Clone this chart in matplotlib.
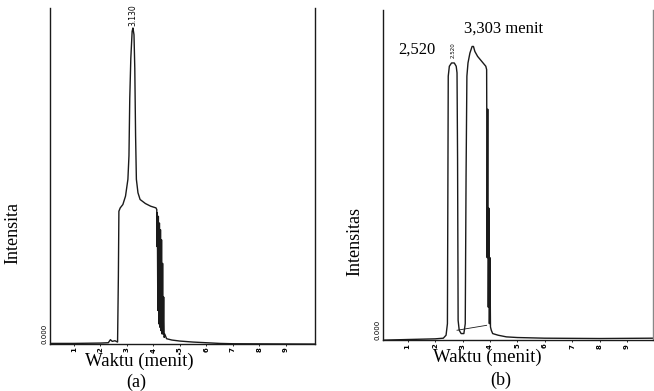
import matplotlib.pyplot as plt

plt.rcParams['font.family'] = ['Liberation Serif', 'DejaVu Serif']

# --- panel (a): single broad peak, label 3.130 ---
t_a = [0.1, 1.0, 2.0, 2.3, 2.38, 2.45, 2.55, 2.65, 2.68, 2.70, 2.75, 2.85, 2.95,
       3.04, 3.08, 3.11, 3.15, 3.20, 3.23, 3.27, 3.30, 3.33, 3.36, 3.42, 3.50,
       3.70, 3.90, 4.10, 4.13, 4.14, 4.15, 4.17, 4.19, 4.21, 4.23, 4.25, 4.27,
       4.29, 4.31, 4.33, 4.35, 4.37, 4.39, 4.41, 4.43, 4.50, 4.70, 5.00, 5.50,
       6.00, 6.50, 7.00, 10.1]
i_a = [0.002, 0.002, 0.003, 0.004, 0.013, 0.008, 0.010, 0.006, 0.20, 0.395, 0.405, 0.415, 0.44,
       0.49, 0.56, 0.73, 0.85, 0.93, 0.94, 0.92, 0.82, 0.62, 0.49, 0.45, 0.43,
       0.418, 0.41, 0.405, 0.40, 0.29, 0.39, 0.10, 0.38, 0.06, 0.36, 0.05, 0.34,
       0.04, 0.31, 0.03, 0.24, 0.03, 0.14, 0.02, 0.03, 0.016, 0.012, 0.009, 0.006,
       0.004, 0.002, 0.001, 0.0]

# --- panel (b): two peaks, 2.520 and 3.303 ---
t_b = [0.1, 1.0, 2.0, 2.30, 2.40, 2.45, 2.48, 2.52, 2.60, 2.70, 2.77, 2.80,
       2.82, 2.84, 2.88, 2.95, 3.05, 3.10, 3.13, 3.16, 3.20, 3.27, 3.35, 3.40,
       3.45, 3.55, 3.65, 3.75, 3.85, 3.88, 3.90, 3.92, 3.94, 3.96, 3.98, 4.00,
       4.02, 4.05, 4.10, 4.30, 4.60, 5.00, 6.00, 8.00, 9.95]
i_b = [0.0, 0.002, 0.004, 0.006, 0.015, 0.05, 0.80, 0.83, 0.84, 0.84, 0.83, 0.81,
       0.55, 0.06, 0.03, 0.02, 0.02, 0.05, 0.50, 0.80, 0.84, 0.87, 0.89, 0.89,
       0.875, 0.86, 0.85, 0.84, 0.83, 0.82, 0.25, 0.70, 0.10, 0.40, 0.05, 0.25,
       0.04, 0.03, 0.02, 0.015, 0.010, 0.008, 0.006, 0.005, 0.006]
# integration baseline drawn under the peaks
base_t = [2.80, 3.88]
base_i = [0.03, 0.045]

ticks = [1, 2, 3, 4, 5, 6, 7, 8, 9]
line_col = '#1a1a1a'

fig = plt.figure(figsize=(6.54, 3.91), dpi=100)
ax_a = fig.add_axes([0.0765, 0.120, 0.405, 0.860])
ax_b = fig.add_axes([0.5856, 0.130, 0.413, 0.844])

for ax in (ax_a, ax_b):
    ax.spines['top'].set_visible(False)
    for s in ('left', 'right', 'bottom'):
        ax.spines[s].set_linewidth(1.0)
        ax.spines[s].set_color(line_col)
    ax.set_xticks(ticks)
    ax.set_xticklabels([str(t) for t in ticks], rotation=90, fontsize=5,
                       family='DejaVu Sans', fontweight='bold')
    ax.tick_params(axis='x', length=1.5, pad=1, width=0.6)
    ax.set_yticks([0])
    ax.set_yticklabels(['0.000'], rotation=90, fontsize=5, family='DejaVu Sans',
                       va='bottom')
    ax.tick_params(axis='y', length=0, pad=2)
    ax.set_ylim(0, 1.0)

ax_b.spines['right'].set_color('#888888')

ax_a.plot(t_a, i_a, color=line_col, lw=1.0)
ax_a.set_xlim(0.1, 10.1)
ax_a.text(3.23, 0.946, '3.130', rotation=90, fontsize=5.5, family='DejaVu Sans',
          ha='center', va='bottom')
ax_a.set_ylabel('Intensita', fontsize=13, va='center')
ax_a.yaxis.set_label_coords(-0.14, 0.33)
ax_a.set_xlabel('Waktu (menit)', fontsize=13.5, va='center')
ax_a.xaxis.set_label_coords(0.338, -0.051)
fig.text(0.209, 0.023, '(a)', fontsize=13, ha='center', va='center')

ax_b.plot(t_b, i_b, color=line_col, lw=1.0)
ax_b.plot(base_t, base_i, color=line_col, lw=0.6)
ax_b.set_xlim(0.1, 9.95)
ax_b.text(2.65, 0.855, '2.520', rotation=90, fontsize=4, family='DejaVu Sans',
          ha='center', va='bottom')
ax_b.text(1.35, 0.88, '2,520', fontsize=12, ha='center', va='center')
ax_b.text(4.5, 0.945, '3,303 menit', fontsize=12, ha='center', va='center')
ax_b.set_ylabel('Intensitas', fontsize=13, va='center')
ax_b.yaxis.set_label_coords(-0.104, 0.30)
ax_b.set_xlabel('Waktu (menit)', fontsize=13.5, va='center')
ax_b.xaxis.set_label_coords(0.385, -0.052)
fig.text(0.765, 0.028, '(b)', fontsize=13, ha='center', va='center')

fig.savefig('out.png', dpi=100)
